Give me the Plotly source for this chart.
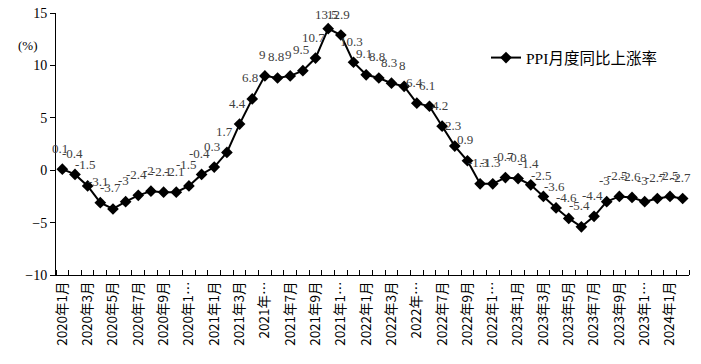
import plotly.graph_objects as go

months = [f"{y}年{m}月" for y in range(2020, 2025) for m in range(1, 13)][:50]
values = [0.1, -0.4, -1.5, -3.1, -3.7, -3.0, -2.4, -2.0, -2.1, -2.1, -1.5, -0.4,
          0.3, 1.7, 4.4, 6.8, 9.0, 8.8, 9.0, 9.5, 10.7, 13.5, 12.9, 10.3,
          9.1, 8.8, 8.3, 8.0, 6.4, 6.1, 4.2, 2.3, 0.9, -1.3, -1.3, -0.7,
          -0.8, -1.4, -2.5, -3.6, -4.6, -5.4, -4.4, -3.0, -2.5, -2.6, -3.0, -2.7,
          -2.5, -2.7]
tick_labels = ["2020年1月", "2020年3月", "2020年5月", "2020年7月", "2020年9月", "2020年1…",
               "2021年1月", "2021年3月", "2021年…", "2021年7月", "2021年9月", "2021年1…",
               "2022年1月", "2022年3月", "2022年…", "2022年7月", "2022年9月", "2022年1…",
               "2023年1月", "2023年3月", "2023年5月", "2023年7月", "2023年9月", "2023年1…",
               "2024年1月"]
series_name = "PPI月度同比上涨率"
y_ticks = [-10, -5, 0, 5, 10, 15]

idx = list(range(len(values)))
tick_idx = idx[::2]

SERIF = "'Times New Roman', 'Liberation Serif', 'Noto Sans CJK SC', serif"
CJK = "'Noto Sans CJK SC', 'Liberation Serif', sans-serif"

# page body has an 8px default margin; size the figure to fit the window
W, H = 685, 348
L, R, T, B = 48, 4, 5, 81
pw, ph = W - L - R, H - T - B
Y_MAX = 15

fig = go.Figure()
fig.add_trace(go.Scatter(
    x=idx, y=values, mode="lines+markers", name=series_name,
    line=dict(color="black", width=2),
    marker=dict(symbol="diamond", size=9, color="black"),
    customdata=months, cliponaxis=False,
))

for xi, v in zip(idx, values):
    # labels near the top of the plot are pulled down to stay inside the chart
    ys = 21 if v < Y_MAX - 2 else 14
    fig.add_annotation(x=xi, y=v, text=f"{v:g}", showarrow=False, yshift=ys, xshift=-2,
                       font=dict(family=SERIF, size=13, color="#404040"))

fig.add_annotation(xref="paper", yref="paper", x=-28/pw, y=(262-32)/ph, text="(%)",
                   xanchor="center", yanchor="middle",
                   showarrow=False, font=dict(family=SERIF, size=13, color="black"))

fig.update_layout(
    width=W, height=H, margin=dict(l=L, r=R, t=T, b=B, autoexpand=False),
    plot_bgcolor="white", paper_bgcolor="white",
    showlegend=True,
    legend=dict(x=(486 - 56) / pw, y=(275 - 58) / ph, xanchor="left", yanchor="middle",
                bgcolor="rgba(0,0,0,0)", font=dict(family=SERIF, size=15.5, color="black"),
                itemwidth=30),
    xaxis=dict(range=[-0.5, len(values) - 0.5], tickmode="array", tickvals=tick_idx,
               ticktext=tick_labels, tickangle=-90, ticks="", showgrid=False,
               showline=True, linecolor="black", linewidth=1, zeroline=False,
               automargin=False, ticklabeloverflow="allow",
               tickfont=dict(family=CJK, size=13.5, color="black"),
               minor=dict(tickmode="linear", tick0=-0.5, dtick=1, ticks="inside",
                          ticklen=5, tickcolor="black", showgrid=False)),
    yaxis=dict(range=[-10, Y_MAX], tickmode="array", tickvals=y_ticks, ticks="outside",
               ticklen=5, tickcolor="black", showgrid=False, zeroline=False,
               showline=True, linecolor="black", linewidth=1, automargin=False,
               ticklabeloverflow="allow",
               tickfont=dict(family=SERIF, size=14, color="black")),
)

fig.write_html("out.html")
